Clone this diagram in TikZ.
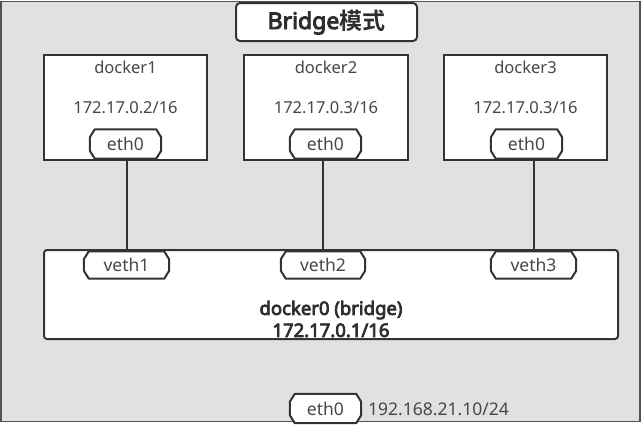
\documentclass[tikz,border=0pt]{standalone}
\usepackage{fontspec}
\setmainfont{Noto Sans}
\newfontfamily\cjkfont{Noto Sans CJK SC}
\newfontfamily\bfnt{Noto Sans}[FakeBold=4]
\newfontfamily\cjkbfnt{Noto Sans CJK SC Bold}
\definecolor{bggray}{HTML}{E1E1E1}
\definecolor{edge}{HTML}{333333}
\definecolor{txt}{HTML}{474747}
\definecolor{btxt}{HTML}{2E2E2E}
\tikzset{
  box/.style={draw=edge, line width=2pt, fill=white, inner sep=0pt},
  lbl/.style={text=txt, font=\fontsize{16.5}{18}\selectfont, inner sep=0pt},
  portarea/.style={rectangle, inner sep=0pt, minimum height=29pt},
  portline/.style={draw=edge, line width=2pt, fill=white, line join=round},
  porttext/.style={text=txt, font=\fontsize{17.5}{19}\selectfont, inner sep=0pt},
  wire/.style={draw=edge, line width=2pt}
}
\newcommand\chamferout[1]{%
  \path[portline] ([xshift=5pt]#1.north west) -- ([xshift=-5pt]#1.north east)
    -- ([yshift=-8pt]#1.north east) -- ([yshift=8pt]#1.south east)
    -- ([xshift=-5pt]#1.south east) -- ([xshift=5pt]#1.south west)
    -- ([yshift=8pt]#1.south west) -- ([yshift=-8pt]#1.north west) -- cycle;}
\begin{document}
\begin{tikzpicture}[x=1pt,y=-1pt]
\useasboundingbox (0,0) rectangle (643,426);
\fill[white] (0,0) rectangle (643,426);
% outer area
\node[draw=edge!85, line width=1.4pt, fill=bggray, minimum width=639pt, minimum height=420pt, inner sep=0pt] (outer) at (320.5,211.5) {};
% title
\node[box, rounded corners=4pt, minimum width=181pt, minimum height=38pt, text=btxt,
      font=\fontsize{23}{25}\selectfont] (title) at (326.5,22) {{\bfnt Bridge}{\cjkbfnt 模式}};
% docker boxes
\node[box, minimum width=163pt, minimum height=105pt] (d1) at (125.5,107.5) {};
\node[box, minimum width=164pt, minimum height=105pt] (d2) at (326,107.5) {};
\node[box, minimum width=163pt, minimum height=105pt] (d3) at (525.5,107.5) {};
\node[lbl] (d1n) at (125.5,67) {docker1};
\node[lbl] (d2n) at (326,67) {docker2};
\node[lbl] (d3n) at (525.5,67) {docker3};
\node[lbl] (d1ip) at (125.5,108) {172.17.0.2/16};
\node[lbl] (d2ip) at (326,108) {172.17.0.3/16};
\node[lbl] (d3ip) at (525.5,108) {172.17.0.3/16};
\node[portarea, minimum width=71pt] (e1) at (125.5,144) {};
\node[portarea, minimum width=71pt] (e2) at (325.5,144) {};
\node[portarea, minimum width=71pt] (e3) at (526.5,144) {};
\chamferout{e1}\chamferout{e2}\chamferout{e3}
\node[porttext] (e1t) at (e1) {eth0};
\node[porttext] (e2t) at (e2) {eth0};
\node[porttext] (e3t) at (e3) {eth0};
% bridge
\node[box, rounded corners=3pt, minimum width=574pt, minimum height=89pt] (br) at (331,294.5) {};
\node[text=btxt, font=\bfnt\fontsize{18.5}{22}\selectfont, align=center, inner sep=0pt] (brt) at (331,319) {docker0 (bridge)\\172.17.0.1/16};
\node[portarea, minimum width=85pt, minimum height=27pt] (v1) at (126.5,265) {};
\node[portarea, minimum width=84pt, minimum height=27pt] (v2) at (323,265) {};
\node[portarea, minimum width=85pt, minimum height=27pt] (v3) at (533.5,265) {};
\chamferout{v1}\chamferout{v2}\chamferout{v3}
\node[porttext] (v1t) at (v1) {veth1};
\node[porttext] (v2t) at (v2) {veth2};
\node[porttext] (v3t) at (v3) {veth3};
% wires
\draw[wire] (d1.south -| v1.north) -- (br.north -| v1.north);
\draw[wire] (d2.south -| v2.north) -- (br.north -| v2.north);
\draw[wire] (d3.south -| v3.north) -- (br.north -| v3.north);
% host eth0
\node[portarea, minimum width=71pt, minimum height=29pt] (he) at (325.5,408.5) {};
\chamferout{he}
\node[porttext] (het) at (he) {eth0};
\node[lbl, anchor=west, font=\fontsize{17.5}{19}\selectfont] (heip) at (368,409) {192.168.21.10/24};
\end{tikzpicture}
\end{document}
